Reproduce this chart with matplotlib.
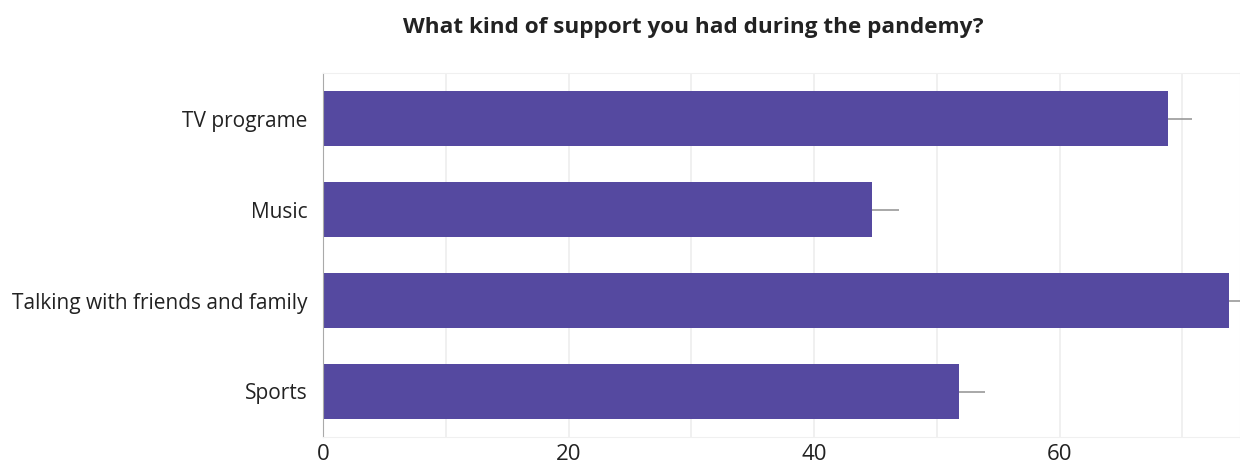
import matplotlib.pyplot as plt
import numpy as np

plt.rcParams['font.family'] = ['Open Sans', 'DejaVu Sans']

categories = ['TV programe', 'Music', 'Talking with friends and family', 'Sports']
values = [68.8, 44.7, 73.8, 51.8]
errors = [2.0, 2.2, 2.5, 2.1]
xticks = [0, 20, 40, 60]

fig = plt.figure(figsize=(12.4, 4.71), dpi=100)
ax = fig.add_axes([323 / 1240, 1 - 437 / 471, 1 - 323 / 1240, (437 - 73) / 471])

y = np.arange(len(categories))
ax.barh(y, values, height=0.6, color='#5549a0', zorder=2)
ax.errorbar(values, y, xerr=[np.zeros(len(errors)), errors], fmt='none',
            ecolor='#999999', elinewidth=1.2, capsize=0, zorder=3)

ax.set_ylim(3.5, -0.5)
ax.set_xlim(0, 74.7)
ax.set_yticks(y)
ax.set_yticklabels(categories, fontsize=15, color='#222222')
ax.set_xticks(xticks)
ax.set_xticklabels([str(t) for t in xticks], fontsize=16, color='#222222')
ax.set_xticks(np.arange(10, 80, 20), minor=True)
ax.grid(axis='x', which='both', color='#eeeeee', lw=1.2, zorder=0)
ax.tick_params(axis='both', which='both', length=0)
ax.tick_params(axis='x', pad=5)
ax.tick_params(axis='y', pad=11)

for s in ['top', 'bottom', 'right']:
    ax.spines[s].set_color('#f0f0f0')
ax.spines['left'].set_color('#aaaaaa')

fig.text(693 / 1240, 1 - 27 / 471, 'What kind of support you had during the pandemy?',
         ha='center', va='center', fontsize=16.2, fontweight='bold', color='#222222')

fig.savefig('out.png', dpi=100)
